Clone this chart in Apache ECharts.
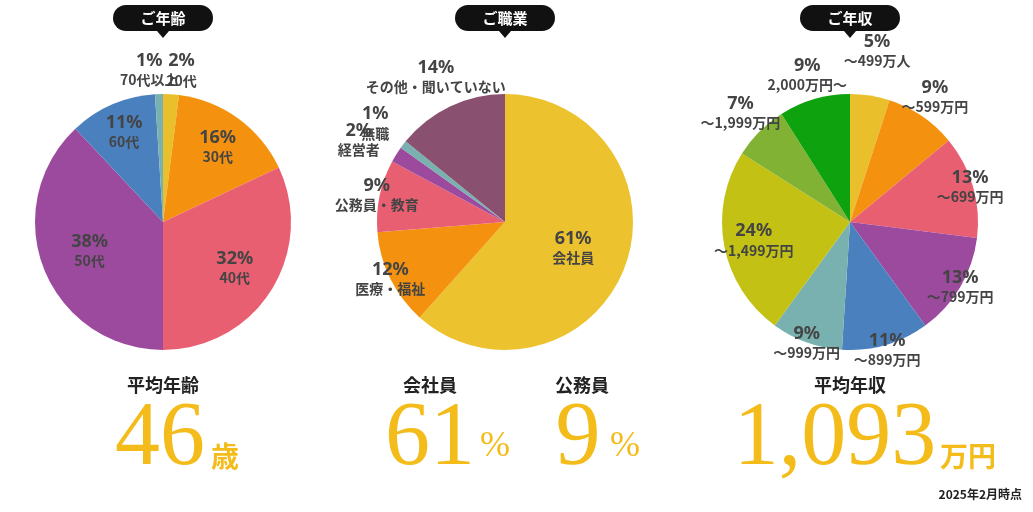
<!DOCTYPE html><html><head><meta charset="utf-8"><script src="https://cdn.jsdelivr.net/npm/echarts@6/dist/echarts.min.js"></script>
<style>body{margin:0;background:#fff}#c{width:1033px;height:512px}</style></head><body><div id="c"></div><script>
const ageNames=['20代','30代','40代','50代','60代','70代以上'];
const ageValues=[2,16,32,38,11,1];
const ageColors=['#e9c02b','#f4920f','#e95f72','#9c4a9e','#4b80bf','#79b1b1'];
const jobNames=['会社員','医療・福祉','公務員・教育','経営者','無職','その他・聞いていない'];
const jobValues=[61,12,9,2,1,14];
const jobColors=['#ecc22e','#f4920f','#e95f72','#9c4a9e','#79b1b1','#8a5070'];
const incNames=['～499万人','～599万円','～699万円','～799万円','～899万円','～999万円','～1,499万円','～1,999万円','2,000万円～'];
const incValues=[5,9,13,13,11,9,24,7,9];
const incColors=['#e9c02b','#f4920f','#e95f72','#9c4a9e','#4b80bf','#79b1b1','#c2c114','#82b233','#0ea20e'];
// label distance from centre per slice (layout only)
const ageR=[150,90,82,76,95,150];
const jobR=[70,125,128,165,160,158];
const incR=[170,148,122,125,130,125,95,152,150];
// extra angular nudges (degrees) for crowded small labels
const ageA=[6,0,0,0,0,-6];
const jobA=[0,0,0,-4,0,0];
const incA=[0,0,0,0,0,0,0,0,0];
function mk(names,vals,cols,center,rs,as){
 const tot=vals.reduce((a,b)=>a+b,0);let cum=0;
 return {type:'pie',radius:128,center:center,startAngle:90,clockwise:true,silent:true,
  labelLayout:{hideOverlap:false,moveOverlap:false},
  data:vals.map((v,i)=>{const th=((cum+v/2)/tot*360+as[i])*Math.PI/180;cum+=v;const d=rs[i]-64;
   return {value:v,name:names[i],itemStyle:{color:cols[i]},
   label:{position:'inside',offset:[Math.sin(th)*d,-Math.cos(th)*d]},labelLine:{show:false}}}),
  label:{formatter:p=>'{p|'+p.value+'%}\n{n|'+p.name+'}',color:'#444',lineHeight:18,
   rich:{p:{fontSize:18,fontWeight:'bold',fontFamily:'Noto Sans',color:'#444',lineHeight:20},n:{fontSize:14,fontWeight:'bold',fontFamily:'Noto Sans CJK JP',color:'#444',lineHeight:18}}},
  labelLine:{show:false}}
}
function badge(x,t){return {type:'group',left:x-50,top:5,children:[{type:'rect',shape:{x:0,y:0,width:100,height:26,r:13},style:{fill:'#111'}},{type:'polygon',shape:{points:[[44,26],[56,26],[50,33]]},style:{fill:'#111'}},{type:'text',style:{x:50,y:13,text:t,fill:'#fff',font:'bold 15px "Noto Sans CJK JP"',align:'center',verticalAlign:'middle'}}]}}
function txt(x,y,t,font,color,align){return {type:'text',style:{x:x,y:y,text:t,fill:color,font:font,align:align||'center',verticalAlign:'middle'}}}
const gold='#f3bc1a',jp='"Noto Sans CJK JP"',sf='"Liberation Serif"';
const big='90px '+sf, lab='bold 18px '+jp;
const ch=echarts.init(document.getElementById('c'));
ch.setOption({animation:false,
 series:[mk(ageNames,ageValues,ageColors,[163,222],ageR,ageA),
         mk(jobNames,jobValues,jobColors,[505,222],jobR,jobA),
         mk(incNames,incValues,incColors,[850,222],incR,incA)],
 graphic:[badge(163,'ご年齢'),badge(505,'ご職業'),badge(850,'ご年収'),
  txt(163,385,'平均年齢',lab,'#222'),
  txt(160,440,'46',big,gold),txt(225,456,'歳','bold 28px '+jp,gold),
  txt(430,385,'会社員',lab,'#222'),
  txt(430,440,'61',big,gold),txt(495,447,'%','36px '+sf,gold),
  txt(582,385,'公務員',lab,'#222'),
  txt(578,440,'9',big,gold),txt(625,447,'%','36px '+sf,gold),
  txt(850,385,'平均年収',lab,'#222'),
  txt(835,440,'1,093',big,gold),txt(968,456,'万円','bold 28px '+jp,gold),
  txt(1022,494,'2025年2月時点','bold 12px '+jp,'#222','right')]
});
</script></body></html>
